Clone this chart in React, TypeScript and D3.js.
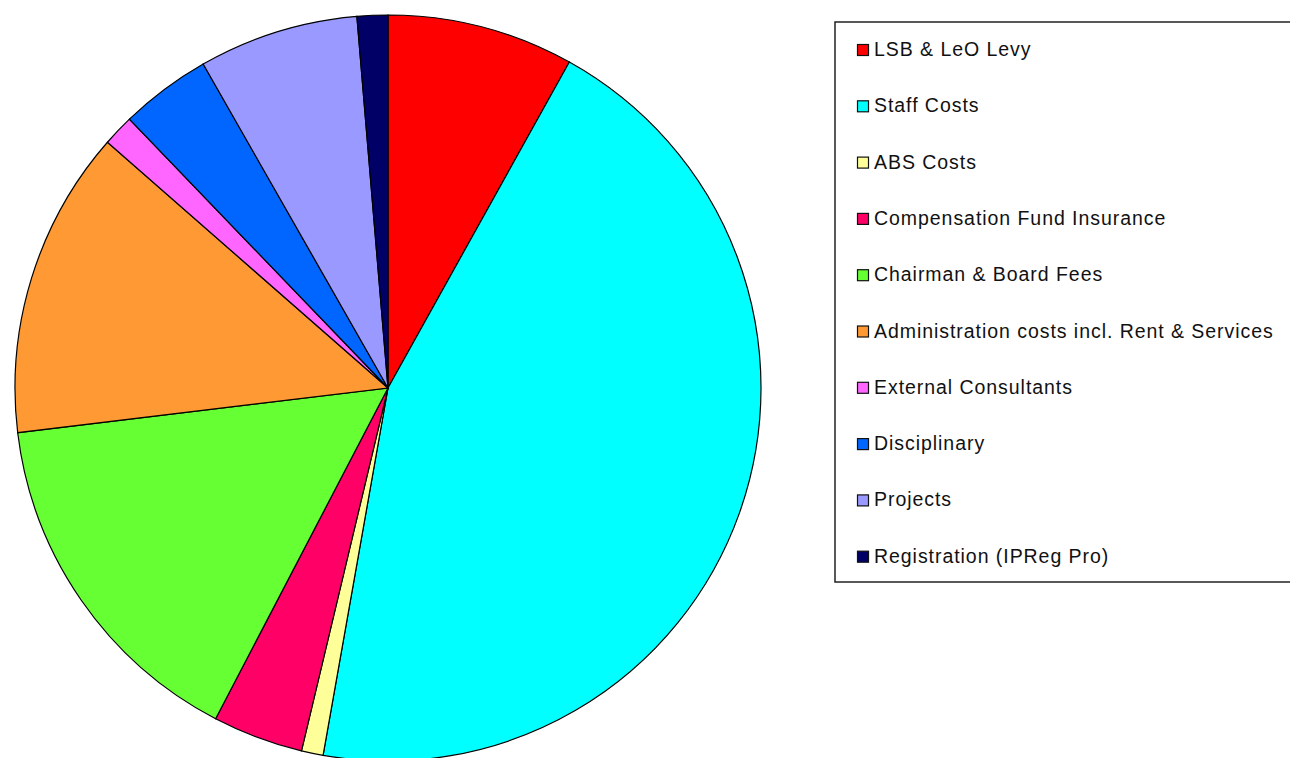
import React from "react";
import * as d3 from "d3";

const categories = [
  "LSB & LeO Levy",
  "Staff Costs",
  "ABS Costs",
  "Compensation Fund Insurance",
  "Chairman & Board Fees",
  "Administration costs incl. Rent & Services",
  "External Consultants",
  "Disciplinary",
  "Projects",
  "Registration (IPReg Pro)",
];
const values = [8.08, 44.7, 0.94, 3.92, 15.44, 13.36, 1.36, 3.94, 6.92, 1.33];
const colors = [
  "#FF0000",
  "#00FFFF",
  "#FFFF99",
  "#FF0066",
  "#66FF33",
  "#FF9933",
  "#FF66FF",
  "#0066FF",
  "#9999FF",
  "#000066",
];

export default function App() {
  const W = 1290;
  const H = 758;
  const cx = 388;
  const cy = 388;
  const r = 373;
  const pie = d3.pie<number>().sort(null).value((d) => d);
  const arcs = pie(values);
  const arc = d3.arc<d3.PieArcDatum<number>>().innerRadius(0).outerRadius(r);
  const legendX = 835;
  const legendY = 22;
  const step = 56.3;
  return (
    <svg
      width={W}
      height={H}
      style={{ position: "absolute", left: 0, top: 0, background: "#fff" }}
      fontFamily="'Liberation Sans', Arial, sans-serif"
    >
      <rect x={0} y={0} width={W} height={H} fill="#fff" />
      <g transform={`translate(${cx},${cy})`}>
        {arcs.map((a, i) => (
          <path key={i} d={arc(a) || ""} fill={colors[i]} stroke="#000" strokeWidth={1.2} />
        ))}
      </g>
      <rect x={legendX} y={legendY} width={W - legendX + 10} height={582 - legendY} fill="#fff" stroke="#222" strokeWidth={1.5} />
      {categories.map((c, i) => {
        const base = 56 + i * step;
        return (
          <g key={c}>
            <rect x={857.5} y={base - 11.5} width={11} height={11} fill={colors[i]} stroke="#111" strokeWidth={1.2} />
            <text x={874} y={base} fontSize={19.5} letterSpacing={0.95} fill="#111">
              {c}
            </text>
          </g>
        );
      })}
    </svg>
  );
}
